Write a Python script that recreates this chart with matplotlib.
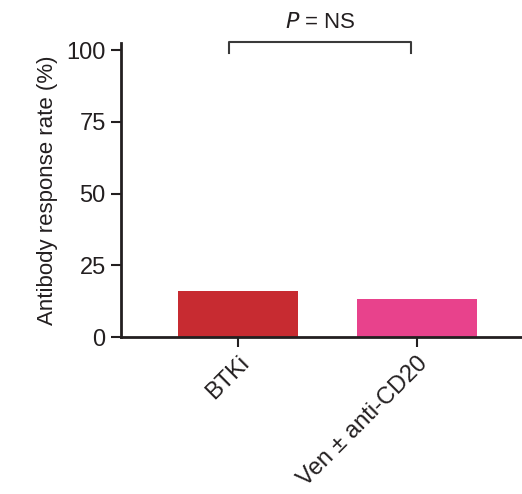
import matplotlib
matplotlib.use("Agg")
import matplotlib.pyplot as plt

plt.rcParams['font.family'] = ["Liberation Sans", "DejaVu Sans"]

categories = ["BTKi", "Ven ± anti-CD20"]
values = [16.0, 13.3]
colors = ["#c72b31", "#e8428c"]
yticks = [0, 25, 50, 75, 100]
p_text = "P = NS"

txt = "#231f20"
fig = plt.figure(figsize=(5.22, 4.94), dpi=100)
ax = fig.add_axes([121/522, 1 - 337/494, 1 - 121/522, (337 - 43)/494])
x = list(range(len(categories)))
ax.bar(x, values, width=0.67, color=colors)
ax.set_xlim(-0.654, 1.587)
ax.set_ylim(0, 102.5)
ax.set_yticks(yticks)
ax.set_xticks(x)
ax.set_xticklabels(categories, rotation=45, ha="right", rotation_mode="anchor")
for s in ["top", "right"]:
    ax.spines[s].set_visible(False)
for s in ["left", "bottom"]:
    ax.spines[s].set_linewidth(2.0)
    ax.spines[s].set_color("#231f20")
ax.tick_params(axis="both", width=1.5, length=7, color="#231f20", labelsize=17, labelcolor=txt, pad=4)
ax.set_ylabel("Antibody response rate (%)", fontsize=16, color=txt, labelpad=6)

# significance bracket
x0, x1 = -0.05, -0.034 + 1
ytop, yleg = 102.8, 99.0
ax.plot([x0, x0, x1, x1], [yleg, ytop, ytop, yleg], color="#3a3a3a", lw=1.5, clip_on=False)
ax.text((x0 + x1) / 2, 106.0, "$\\it{P}$ = NS", ha="center", va="bottom", fontsize=16, color=txt)

fig.savefig("out.png", dpi=100)
